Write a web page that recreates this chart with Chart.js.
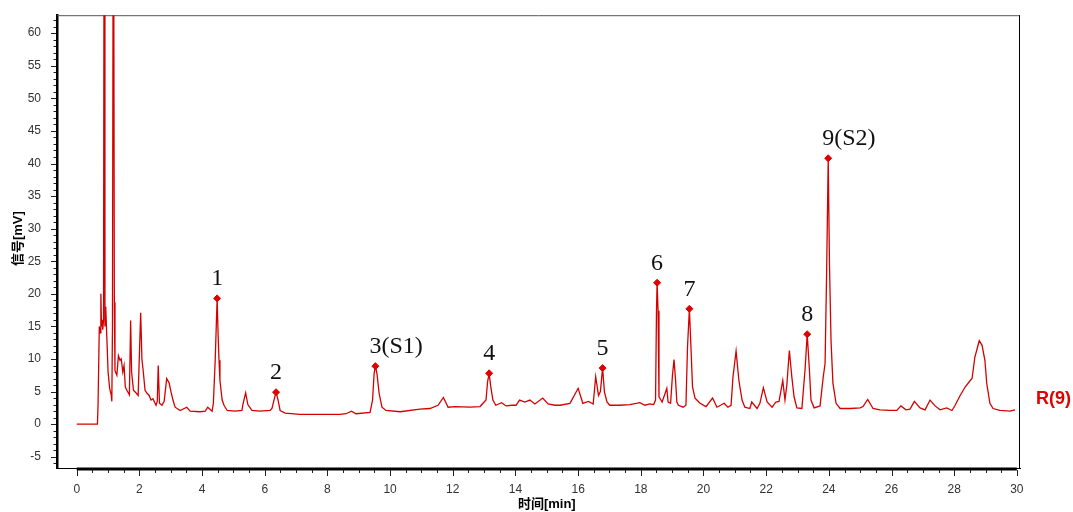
<!DOCTYPE html>
<html>
<head>
<meta charset="utf-8">
<script src="https://cdn.jsdelivr.net/npm/chart.js@4.4.1/dist/chart.umd.min.js"></script>
<style>
  html, body { margin: 0; padding: 0; background: #fff; }
  #c { display: block; }
</style>
</head>
<body>
<canvas id="c" width="1073" height="512"></canvas>
<script>
// ---- data ----
const times = [
  0, 0.66, 0.68, 0.71, 0.72, 0.75, 0.77, 0.79, 0.81, 0.83, 0.855, 0.88, 0.90, 0.925, 0.97, 1.00, 1.05, 1.10, 1.12, 1.14,
  1.17, 1.20, 1.22, 1.28, 1.33, 1.38, 1.42, 1.47, 1.51, 1.55, 1.60, 1.68, 1.72, 1.75, 1.81, 1.91, 1.96, 2.04, 2.08, 2.12,
  2.18, 2.25, 2.31, 2.37, 2.43, 2.53, 2.57, 2.60, 2.64, 2.72, 2.79, 2.87, 2.95, 3.01, 3.07, 3.14, 3.30, 3.51, 3.62, 3.93,
  4.10, 4.18, 4.32, 4.36, 4.42, 4.48, 4.51, 4.54, 4.57, 4.64, 4.70, 4.80, 5.05, 5.27, 5.31, 5.39, 5.46, 5.59, 5.85, 6.17,
  6.23, 6.30, 6.36, 6.42, 6.49, 6.65, 7.12, 7.76, 8.40, 8.59, 8.77, 8.91, 9.36, 9.44, 9.49, 9.53, 9.58, 9.65, 9.74, 9.87,
  10.32, 10.95, 11.27, 11.53, 11.70, 11.85, 12.07, 12.55, 12.87, 13.06, 13.11, 13.16, 13.21, 13.28, 13.37, 13.56, 13.70, 13.89, 14.02, 14.13,
  14.30, 14.46, 14.62, 14.87, 15.04, 15.26, 15.42, 15.74, 16.00, 16.15, 16.33, 16.48, 16.56, 16.65, 16.71, 16.78, 16.84, 16.92, 17.01, 17.33,
  17.65, 17.97, 18.13, 18.29, 18.41, 18.47, 18.50, 18.52, 18.55, 18.58, 18.68, 18.83, 18.87, 18.95, 19.01, 19.06, 19.11, 19.15, 19.20, 19.35,
  19.44, 19.49, 19.55, 19.60, 19.65, 19.73, 19.89, 20.08, 20.29, 20.43, 20.66, 20.78, 20.88, 20.94, 21.04, 21.13, 21.23, 21.32, 21.48, 21.54,
  21.71, 21.80, 21.91, 22.03, 22.19, 22.31, 22.41, 22.53, 22.60, 22.66, 22.74, 22.82, 22.89, 22.98, 23.14, 23.24, 23.31, 23.38, 23.43, 23.53,
  23.72, 23.82, 23.88, 23.93, 23.98, 24.02, 24.07, 24.13, 24.23, 24.36, 24.68, 25.00, 25.09, 25.24, 25.41, 25.63, 25.95, 26.17, 26.30, 26.46,
  26.59, 26.73, 26.91, 27.07, 27.23, 27.39, 27.55, 27.76, 27.93, 28.03, 28.19, 28.35, 28.51, 28.57, 28.66, 28.80, 28.89, 28.98, 29.04, 29.14,
  29.24, 29.46, 29.78, 29.94
];
const signal = [
  0, 0, 2.9, 2.9, 15, 14, 20, 15, 16, 14.5, 16, 110, 15, 18, 12, 8, 5.5, 4.5, 3.5, 15,
  100, 18.7, 8.2, 7.5, 10.5, 9.8, 10.0, 8, 9, 5.7, 5.2, 4.5, 15.9, 8, 5.2, 4.7, 4.4, 17.1, 10, 8.2,
  5.2, 4.7, 4.4, 3.7, 3.9, 2.9, 3.5, 9.0, 3.2, 2.9, 3.5, 7.0, 6.3, 4.9, 3.7, 2.6, 2.1, 2.6, 2.0, 1.9,
  2.0, 2.6, 2.0, 3.2, 10, 19.3, 13.9, 9.8, 6.7, 3.7, 2.9, 2.1, 2.0, 2.1, 3.2, 4.8, 3.0, 2.1, 2.0, 2.1,
  2.4, 3.8, 4.9, 3.8, 2.1, 1.7, 1.5, 1.5, 1.5, 1.6, 2.0, 1.6, 1.8, 3.7, 7.8, 8.9, 7.8, 4.7, 2.6, 2.1,
  1.9, 2.3, 2.4, 2.9, 4.1, 2.6, 2.7, 2.6, 2.7, 3.7, 6.5, 7.8, 5.8, 3.7, 2.9, 3.3, 2.8, 2.9, 2.9, 3.7,
  3.4, 3.7, 3.1, 4.0, 3.1, 2.9, 2.9, 3.2, 5.5, 3.2, 3.5, 3.1, 7.3, 4.4, 5.0, 8.6, 4.9, 3.4, 2.9, 2.9,
  3.0, 3.3, 2.9, 3.1, 3.0, 3.7, 17.4, 21.7, 17.4, 4.2, 3.4, 5.5, 3.4, 3.2, 7.5, 9.9, 6.7, 3.4, 2.9, 2.6,
  2.9, 11.8, 17.7, 11.8, 5.7, 4.0, 3.2, 2.7, 4.0, 2.6, 3.2, 2.6, 2.9, 7.2, 11.2, 6.7, 3.7, 2.6, 2.4, 3.4,
  2.4, 3.2, 5.6, 3.4, 2.6, 3.4, 3.5, 6.7, 3.7, 6.0, 11.3, 7.2, 4.2, 2.5, 2.4, 8.3, 13.8, 8.3, 3.7, 2.5,
  2.8, 7.2, 9.3, 23.5, 40.8, 24.6, 12.8, 6.3, 3.2, 2.4, 2.4, 2.5, 2.7, 3.8, 2.4, 2.2, 2.1, 2.1, 2.8, 2.2,
  2.3, 3.5, 2.5, 2.2, 3.7, 2.8, 2.2, 2.5, 2.1, 2.9, 4.4, 5.7, 6.7, 7.0, 10.3, 12.8, 12.1, 9.8, 6.2, 3.2,
  2.4, 2.1, 2.0, 2.2
];
const peakTimes  = [4.48, 6.36, 9.53, 13.16, 16.78, 18.52, 19.55, 23.31, 23.98];
const peakValues = [19.3, 4.9, 8.9, 7.8, 8.6, 21.7, 17.7, 13.8, 40.8];
const peakLabels = ["1", "2", "3(S1)", "4", "5", "6", "7", "8", "9(S2)"];
const xTicks = [0, 2, 4, 6, 8, 10, 12, 14, 16, 18, 20, 22, 24, 26, 28, 30];
const yTicks = [-5, 0, 5, 10, 15, 20, 25, 30, 35, 40, 45, 50, 55, 60];
const seriesName = "R(9)";
const xTitle = "时间[min]";
const yTitle = "信号[mV]";

// ---- styling ----
const RED = '#d20000';
const X_MINOR = 0.5, Y_MINOR = 1;

const decor = {
  id: 'decor',
  beforeDatasetsDraw(chart) {
    const { ctx, chartArea: a } = chart;
    ctx.save();
    ctx.strokeStyle = '#555';
    ctx.lineWidth = 1;
    ctx.beginPath();
    ctx.moveTo(a.left, a.top + 0.5); ctx.lineTo(a.right, a.top + 0.5);
    ctx.stroke();
    ctx.strokeStyle = '#000';
    ctx.beginPath();
    ctx.moveTo(a.right - 0.5, a.top); ctx.lineTo(a.right - 0.5, a.bottom);
    ctx.stroke();
    ctx.restore();
  },
  afterDraw(chart) {
    const { ctx, chartArea: a, scales: { x, y } } = chart;
    ctx.save();
    const x0 = x.getPixelForValue(xTicks[0]), x1 = x.getPixelForValue(xTicks[xTicks.length - 1]);
    ctx.strokeStyle = '#000';
    ctx.lineWidth = 3;
    ctx.beginPath();
    ctx.moveTo(x0, a.bottom + 1); ctx.lineTo(x1, a.bottom + 1);
    ctx.stroke();
    ctx.lineWidth = 1;
    ctx.strokeStyle = '#222';
    const nx = Math.round((xTicks[xTicks.length - 1] - xTicks[0]) / X_MINOR);
    for (let i = 0; i <= nx; i++) {
      const v = xTicks[0] + i * X_MINOR;
      const px = Math.round(x.getPixelForValue(v)) + 0.5;
      const major = xTicks.includes(v);
      ctx.beginPath();
      ctx.moveTo(px, a.bottom + 2);
      ctx.lineTo(px, a.bottom + (major ? 8 : 5));
      ctx.stroke();
    }
    const ymin = Math.ceil(y.min), ymax = Math.floor(y.max);
    for (let v = ymin; v <= ymax; v += Y_MINOR) {
      const py = Math.round(y.getPixelForValue(v)) + 0.5;
      const major = yTicks.includes(v);
      ctx.beginPath();
      ctx.moveTo(a.left - 1, py);
      ctx.lineTo(a.left - (major ? 6 : 3.5), py);
      ctx.stroke();
    }
    ctx.fillStyle = '#000';
    ctx.font = 'bold 13px "Liberation Sans", "Noto Sans CJK SC", sans-serif';
    ctx.textAlign = 'center';
    ctx.textBaseline = 'middle';
    ctx.fillText(xTitle, x.getPixelForValue((xTicks[0] + xTicks[xTicks.length - 1]) / 2), 504);
    ctx.save();
    ctx.translate(18, (a.top + a.bottom) / 2 - 3);
    ctx.rotate(-Math.PI / 2);
    ctx.fillText(yTitle, 0, 0);
    ctx.restore();
    const lastY = y.getPixelForValue(signal[signal.length - 1]);
    ctx.fillStyle = '#e00000';
    ctx.font = 'bold 18px "Liberation Sans", Arial, sans-serif';
    ctx.textAlign = 'left';
    ctx.fillText(seriesName, a.right + 16, lastY - 11);
    const meta = chart.getDatasetMeta(1);
    ctx.fillStyle = '#111';
    ctx.font = '24px "Liberation Serif", "Times New Roman", serif';
    ctx.textBaseline = 'alphabetic';
    meta.data.forEach((pt, i) => {
      const txt = peakLabels[i];
      const w0 = ctx.measureText(txt[0]).width;
      ctx.fillText(txt, pt.x - w0 / 2, pt.y - 13);
    });
    ctx.restore();
  }
};

new Chart(document.getElementById('c'), {
  type: 'line',
  data: {
    datasets: [
      {
        label: seriesName,
        data: times.map((t, i) => ({ x: t, y: signal[i] })),
        borderColor: RED,
        borderWidth: 1.3,
        pointRadius: 0,
        tension: 0,
        fill: false,
        clip: 0,
        order: 2
      },
      {
        label: 'peaks',
        data: peakTimes.map((t, i) => ({ x: t, y: peakValues[i] })),
        showLine: false,
        pointStyle: 'rectRot',
        pointRadius: 3.5,
        pointBackgroundColor: '#e00000',
        pointBorderColor: '#e00000',
        order: 1
      }
    ]
  },
  options: {
    responsive: false,
    animation: false,
    devicePixelRatio: 1,
    layout: { padding: { left: 0, right: 53, top: 14, bottom: 0 } },
    plugins: { legend: { display: false }, tooltip: { enabled: false } },
    scales: {
      x: {
        type: 'linear',
        min: -0.63,
        max: 30.1,
        afterFit(s) { s.height = 44; },
        afterBuildTicks(s) { s.ticks = xTicks.map(v => ({ value: v })); },
        grid: { display: false },
        border: { display: true, color: '#000', width: 1 },
        ticks: {
          autoSkip: false,
          maxRotation: 0,
          padding: 6,
          color: '#333',
          font: { family: '"Liberation Sans", Arial, sans-serif', size: 12 }
        }
      },
      y: {
        type: 'linear',
        min: -6.73,
        max: 62.76,
        afterFit(s) { s.width = 57; },
        afterBuildTicks(s) { s.ticks = yTicks.map(v => ({ value: v })); },
        grid: { display: false },
        border: { display: true, color: '#000', width: 2.5 },
        ticks: {
          autoSkip: false,
          padding: 8,
          color: '#333',
          font: { family: '"Liberation Sans", Arial, sans-serif', size: 12 }
        }
      }
    }
  },
  plugins: [decor]
});
</script>
</body>
</html>
